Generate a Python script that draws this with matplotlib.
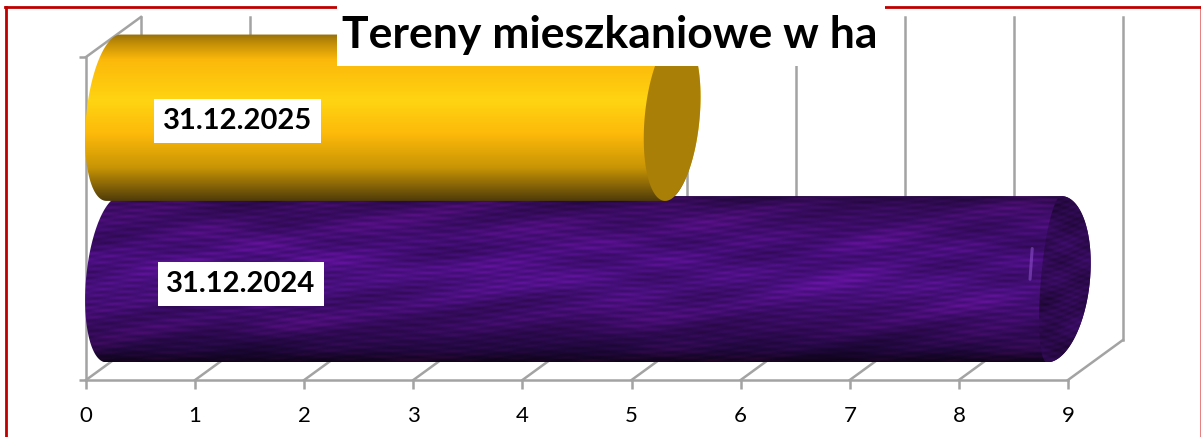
import numpy as np
from matplotlib import pyplot as plt
from matplotlib.patches import Polygon, Rectangle

plt.rcParams['font.family'] = ['Lato', 'DejaVu Sans']

# chart values
categories = ['31.12.2024', '31.12.2025']
values = [8.62, 5.12]
x_ticks = [0, 1, 2, 3, 4, 5, 6, 7, 8, 9]
title = 'Tereny mieszkaniowe w ha'

GRAY = '#a3a3a3'
W, H = 1201, 437
fig = plt.figure(figsize=(W / 100, H / 100), dpi=100, facecolor='white')
ax = fig.add_axes([86 / W, 1 - 380 / H, (1068 - 86) / W, (380 - 57) / H])
ax.set_facecolor('none')

# 3d box offset, in axis units
depth_x = 0.504
depth_y = 0.248
bar_d = 1.03
skew = 0.065


def hex_rgb(c):
    c = c.lstrip('#')
    return [int(c[i:i + 2], 16) / 255 for i in (0, 2, 4)]


def gradient(stops, rows):
    pos = [s[0] for s in stops]
    cols = np.array([hex_rgb(s[1]) for s in stops])
    t = np.linspace(0, 1, rows)
    return np.stack([np.interp(t, pos, cols[:, i]) for i in range(3)], axis=1)


def ellipse(cx, cy, t, half_w=depth_x / 2):
    x = cx + half_w * np.cos(t) + skew * np.sin(t)
    y = cy + bar_d / 2 * np.sin(t)
    return np.column_stack([x, y])


def mottle(rows, cols):
    # fibre-like surface made from layered waves
    yy, xx = np.mgrid[0:rows, 0:cols]
    m = (0.55 * np.sin(yy * 1.15 + xx * 0.13 + 2 * np.sin(xx * 0.03))
         + 0.55 * np.sin(yy * 0.83 - xx * 0.11 + 2 * np.sin(yy * 0.07))
         + 1.0 * np.sin(xx * 0.021 + 1.5 * np.sin(yy * 0.05)) * np.sin(yy * 0.09 + 1.2 * np.sin(xx * 0.017))
         + 0.5 * np.sin(xx * 0.047 + yy * 0.21 + 1.5 * np.sin(xx * 0.008)))
    return m / 2.6


def draw_cylinder(i, value, stops, cap_color, textured=False, outer_w=depth_x / 2, inner_w=depth_x / 2):
    cy = i + 0.5 + depth_y / 2
    x0 = depth_x / 2
    x1 = value + depth_x / 2
    left = ellipse(x0, cy, np.linspace(np.pi / 2, 3 * np.pi / 2, 80))
    right = ellipse(x1, cy, np.linspace(-np.pi / 2, np.pi / 2, 80), outer_w)
    body = Polygon(np.vstack([left, right]), closed=True, fc='none', ec='none', clip_on=False, zorder=3 + i)
    ax.add_patch(body)
    rows, cols = 170, 1000
    img = np.repeat(gradient(stops, rows)[:, None, :], cols, axis=1)
    if textured:
        m = mottle(rows, cols)[:, :, None]
        img = np.clip(img * (1 + 0.3 * m) + np.array([0.06, 0.0, 0.02]) * np.clip(m, 0, 1), 0, 1)
    extent = [-0.1, value + depth_x + 0.3, cy - bar_d / 2, cy + bar_d / 2]
    im = ax.imshow(img, extent=extent, aspect='auto', origin='upper', zorder=3 + i, interpolation='bilinear')
    im.set_clip_box(fig.bbox)
    im.set_clip_path(body)

    cap_right = ellipse(x1, cy, np.linspace(-np.pi / 2, np.pi / 2, 80), outer_w)
    cap_left = ellipse(x1, cy, np.linspace(np.pi / 2, 3 * np.pi / 2, 80), inner_w)
    cap_pts = np.vstack([cap_right, cap_left])
    if textured:
        cap = Polygon(cap_pts, closed=True, fc='none', ec='none', clip_on=False, zorder=3.1 + i)
        ax.add_patch(cap)
        cap_img = np.repeat(np.array(hex_rgb(cap_color))[None, None, :], rows, axis=0).repeat(300, axis=1)
        cap_img = np.clip(cap_img * (1 + 0.4 * mottle(rows, 300)[:, :, None]), 0, 1)
        im2 = ax.imshow(cap_img, extent=[x1 - 0.5, x1 + 0.5, cy - bar_d / 2, cy + bar_d / 2],
                        aspect='auto', zorder=3.1 + i, interpolation='bilinear')
        im2.set_clip_box(fig.bbox)
        im2.set_clip_path(cap)
        # small sheen next to the end face
        ax.plot([x1 - 0.2, x1 - 0.22], [cy + 0.19, cy + 0.0], color='#8a4fc8', lw=2.2, alpha=0.6,
                solid_capstyle='round', clip_on=False, zorder=3.2 + i)
    else:
        ax.add_patch(Polygon(cap_pts, closed=True, fc=cap_color, ec='none', clip_on=False, zorder=3.1 + i))


# axes and walls
for side in ['top', 'right']:
    ax.spines[side].set_visible(False)
for side in ['bottom', 'left']:
    ax.spines[side].set_color(GRAY)
    ax.spines[side].set_linewidth(1.8)
ax.set_xticks(x_ticks)
ax.set_yticks([0, 2])
ax.set_yticklabels([])
ax.tick_params(axis='x', length=6.5, width=1.8, color=GRAY, labelsize=16, pad=12, labelcolor='black')
ax.tick_params(axis='y', length=5, width=1.8, color=GRAY)

for v in x_ticks:
    ax.plot([v + depth_x, v + depth_x], [depth_y, 2 + depth_y], color=GRAY, lw=1.8, clip_on=False, zorder=1)
    ax.plot([v, v + depth_x], [0, depth_y], color=GRAY, lw=1.8, clip_on=False, zorder=1)
ax.plot([0, depth_x], [2, 2 + depth_y], color=GRAY, lw=1.8, clip_on=False, zorder=1)

draw_cylinder(0, values[0],
              [(0, '#2a0a48'), (0.07, '#380c60'), (0.35, '#450e7a'), (0.55, '#491080'),
               (0.8, '#360b5e'), (0.93, '#20083e'), (1, '#10041c')],
              '#2e0a50', textured=True, outer_w=0.33, inner_w=0.12)
draw_cylinder(1, values[1],
              [(0, '#97700a'), (0.05, '#c08d07'), (0.15, '#fcb80a'), (0.4, '#ffd412'),
               (0.6, '#fdb90a'), (0.8, '#c89505'), (0.93, '#7a5b08'), (1, '#4f3c08')],
              '#aa7f07')

ax.set_xlim(0, 9)
ax.set_ylim(0, 2)

# category labels on the bars
label_x = [1.42, 1.39]
label_y = [0.595, 1.605]
for lx, ly, name in zip(label_x, label_y, categories):
    ax.text(lx, ly, name, fontsize=21, fontweight='bold', ha='center', va='center', color='black', zorder=6,
            bbox=dict(boxstyle='square,pad=0.3', fc='white', ec='none'))

# slide frame, cut by the title box
frame = dict(color='#c00000', lw=2, transform=fig.transFigure, clip_on=False, zorder=7)
fig.add_artist(plt.Line2D([5.5 / W, 5.5 / W], [0, 1 - 7 / H], **frame))
fig.add_artist(plt.Line2D([5 / W, 1], [1 - 7 / H, 1 - 7 / H], **frame))
fig.add_artist(plt.Line2D([1200.5 / W, 1200.5 / W], [0, 1 - 7 / H], color='#e57373', lw=2,
                          transform=fig.transFigure))

fig.add_artist(Rectangle((337 / W, 1 - 66 / H), (885 - 337) / W, 66 / H, fc='white', ec='none',
                         transform=fig.transFigure, zorder=8))
fig.text(610 / W, 1 - 35 / H, title, fontsize=32, fontweight='bold', ha='center', va='center',
         color='black', zorder=9)

fig.savefig('out.png', dpi=100)
